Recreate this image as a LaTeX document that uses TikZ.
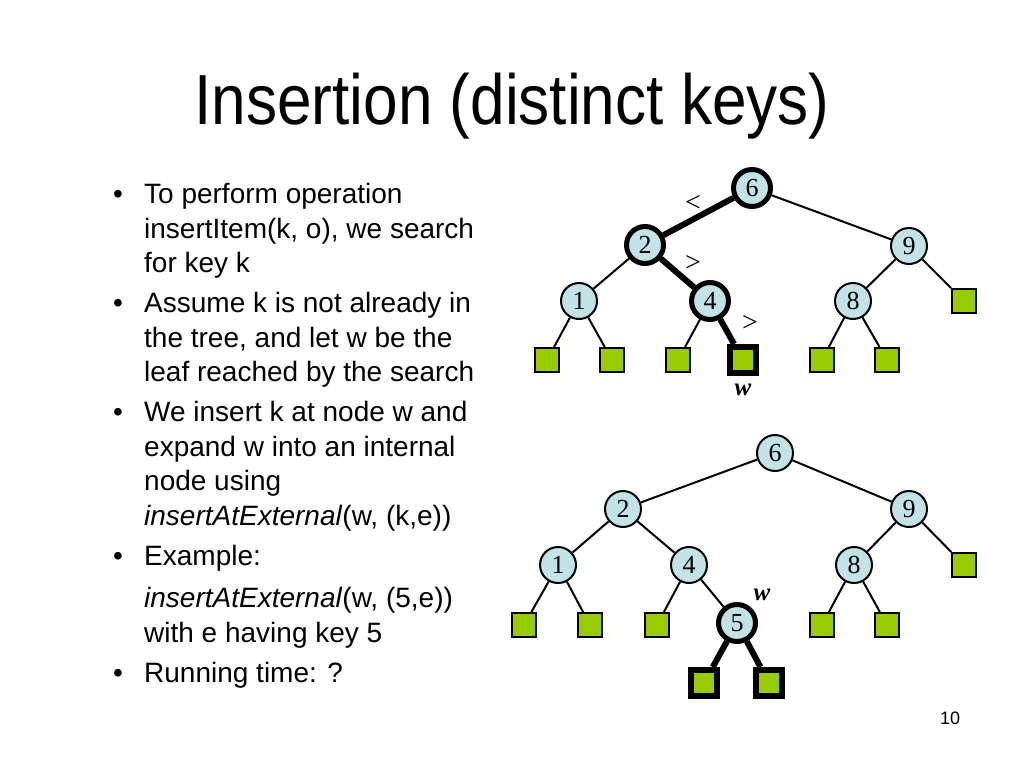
\documentclass[tikz,border=0pt]{standalone}
\usepackage{graphicx}
\usepackage{fontspec}
\setmainfont{Liberation Sans}
\newfontfamily\keyfont{Liberation Serif}
\definecolor{keyblue}{HTML}{C2E2E6}
\definecolor{leafgreen}{HTML}{99CC00}

\begin{document}
\begin{tikzpicture}[x=1pt,y=-1pt,
  key/.style={circle,draw,line width=2pt,fill=keyblue,minimum size=36pt,inner sep=0pt,
    font=\keyfont\fontsize{26}{26}\selectfont},
  keyhit/.style={key,line width=5pt,minimum size=37pt},
  leaf/.style={rectangle,draw,line width=2pt,fill=leafgreen,minimum size=24pt,inner sep=0pt},
  leafhit/.style={leaf,line width=6pt,minimum size=26pt},
  edge/.style={line width=2pt},
  searchedge/.style={line width=6pt},
  sign/.style={font=\keyfont\fontsize{28}{28}\selectfont},
  wlabel/.style={font=\keyfont\fontsize{25}{25}\selectfont\bfseries\itshape},
  textline/.style={anchor=base west,inner sep=0pt,font=\fontsize{28}{28}\selectfont},
  bullet/.style={anchor=base,inner sep=0pt,font=\fontsize{28}{28}\selectfont}]
\fill[white] (0,0) rectangle (1024,768);
\useasboundingbox (0,0) rectangle (1024,768);

% Title
\node[anchor=base,inner sep=0pt,font=\fontsize{71}{71}\selectfont] (title) at (512,124)
  {\scalebox{0.875}[1]{Insertion (distinct keys)}};

% Bullet text
\foreach \y/\t [count=\i] in {203/{To perform operation}, 238/{insertItem(k, o), we search},
    272/{for key k}, 312/{Assume k is not already in}, 347/{the tree, and let w be the},
    381/{leaf reached by the search}, 421/{We insert k at node w and},
    456/{expand w into an internal}, 490/{node using},
    525/{\textit{insertAtExternal}(w, (k,e))}, 565/{Example:},
    607/{\textit{insertAtExternal}(w, (5,e))}, 642/{with e having key 5},
    682/{Running time: ?}} {
    \node[textline] (line\i) at (144,\y) {\t};
}
\foreach \y [count=\i] in {203,312,421,565,682} {
    \node[bullet] (dot\i) at (118,\y) {\textbullet};
}

% Search tree
\node[keyhit] (t6) at (752,188) {6};
\node[keyhit] (t2) at (645,245) {2};
\node[key] (t9) at (909,246) {9};
\node[key] (t1) at (579,301) {1};
\node[keyhit] (t4) at (710,301) {4};
\node[key] (t8) at (853,301) {8};
\node[leaf] (t9r) at (964,301) {};
\node[leaf] (t1l) at (547,360) {};
\node[leaf] (t1r) at (612,360) {};
\node[leaf] (t4l) at (678,360) {};
\node[leafhit] (tw) at (743,360) {};
\node[leaf] (t8l) at (822,360) {};
\node[leaf] (t8r) at (887,360) {};

\draw[searchedge] (t6) -- (t2);
\draw[searchedge] (t2) -- (t4);
\draw[searchedge] (t4) -- (tw);
\draw[edge] (t6) -- (t9);
\draw[edge] (t2) -- (t1);
\draw[edge] (t1) -- (t1l);
\draw[edge] (t1) -- (t1r);
\draw[edge] (t4) -- (t4l);
\draw[edge] (t9) -- (t8);
\draw[edge] (t9) -- (t9r);
\draw[edge] (t8) -- (t8l);
\draw[edge] (t8) -- (t8r);

\node[sign] (lt1) at (693,203) {<};
\node[sign] (gt1) at (693,263) {>};
\node[sign] (gt2) at (750,323) {>};
\node[wlabel] (tlab) at (743,390) {w};

% Tree after insertion
\node[key] (b6) at (775,453) {6};
\node[key] (b2) at (623,509) {2};
\node[key] (b9) at (909,509) {9};
\node[key] (b1) at (558,565) {1};
\node[key] (b4) at (689,565) {4};
\node[key] (b8) at (854,565) {8};
\node[leaf] (b9r) at (964,565) {};
\node[leaf] (b1l) at (524,625) {};
\node[leaf] (b1r) at (590,625) {};
\node[leaf] (b4l) at (657,625) {};
\node[keyhit] (b5) at (737,623) {5};
\node[leaf] (b8l) at (822,625) {};
\node[leaf] (b8r) at (887,625) {};
\node[leafhit] (b5l) at (704,683) {};
\node[leafhit] (b5r) at (769,683) {};

\draw[edge] (b6) -- (b2);
\draw[edge] (b6) -- (b9);
\draw[edge] (b2) -- (b1);
\draw[edge] (b2) -- (b4);
\draw[edge] (b1) -- (b1l);
\draw[edge] (b1) -- (b1r);
\draw[edge] (b4) -- (b4l);
\draw[edge] (b4) -- (b5);
\draw[edge] (b9) -- (b8);
\draw[edge] (b9) -- (b9r);
\draw[edge] (b8) -- (b8l);
\draw[edge] (b8) -- (b8r);
\draw[searchedge] (b5) -- (b5l);
\draw[searchedge] (b5) -- (b5r);

\node[wlabel] (blab) at (762,595) {w};

% Page number
\node[font=\fontsize{18}{18}\selectfont] (page) at (950,718) {10};
\end{tikzpicture}
\end{document}
